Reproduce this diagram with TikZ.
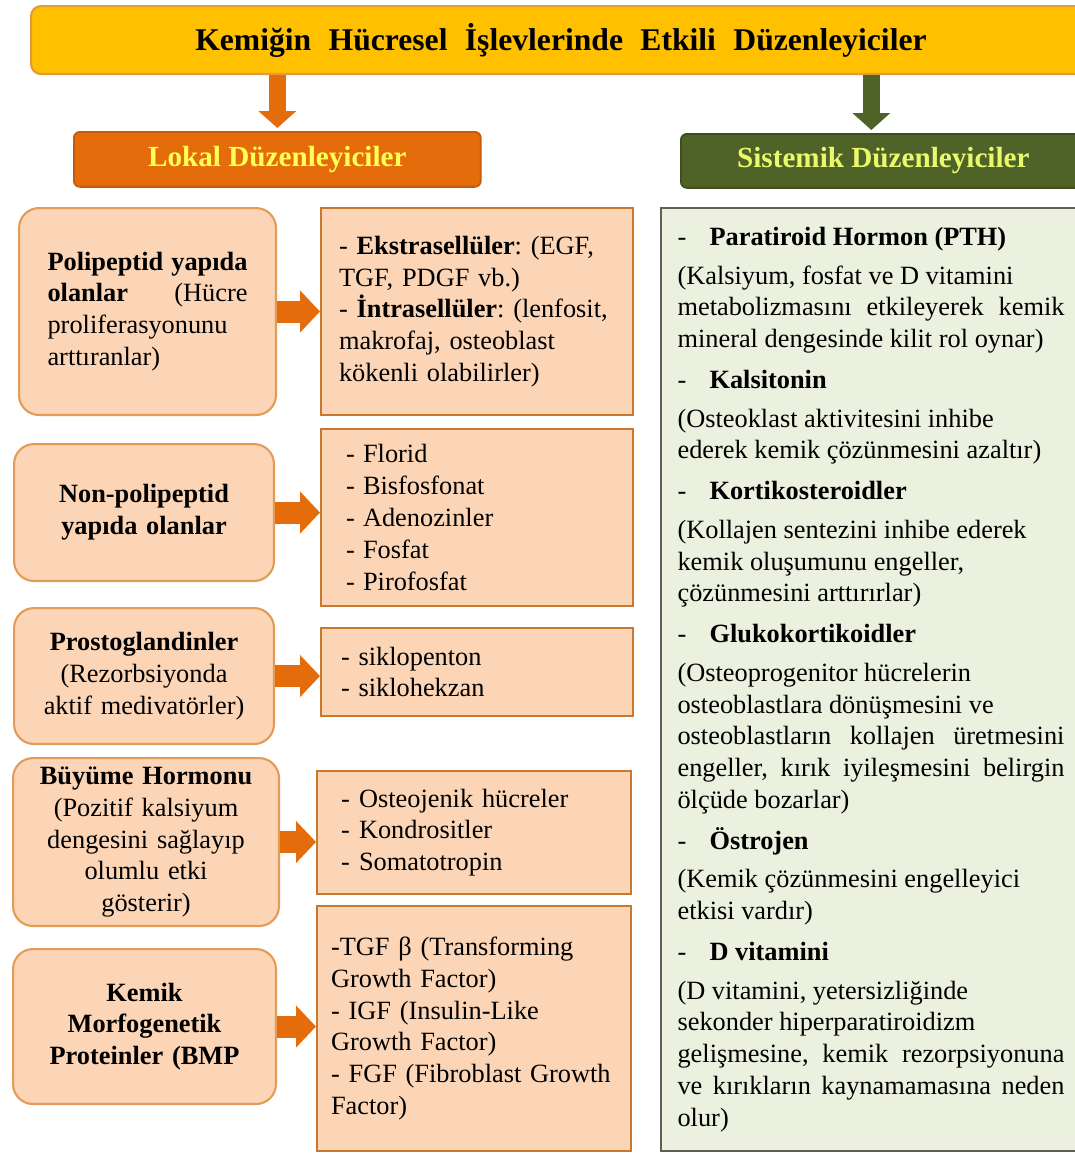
\documentclass[tikz,border=0pt]{standalone}
\usepackage{fontspec}
\setmainfont{Liberation Serif}
\usetikzlibrary{arrows.meta}
\hyphenpenalty=10000
\exhyphenpenalty=10000
\frenchspacing

\definecolor{titlegold}{HTML}{FFC000}
\definecolor{titleline}{HTML}{E49A3C}
\definecolor{arroworange}{HTML}{E46C0A}
\definecolor{lokalfill}{HTML}{E46C0A}
\definecolor{lokalline}{HTML}{C45A0A}
\definecolor{lokaltext}{HTML}{FFFF55}
\definecolor{sisfill}{HTML}{4F6228}
\definecolor{sisline}{HTML}{3E4E1E}
\definecolor{sistext}{HTML}{E9F96B}
\definecolor{peach}{HTML}{FBD5B5}
\definecolor{peachline}{HTML}{E39C58}
\definecolor{itemline}{HTML}{C8782F}
\definecolor{sysfill}{HTML}{EBF1DE}
\definecolor{sysline}{HTML}{5F5F58}

\newcommand{\itemdash}[2][0.34cm]{\makebox[#1][l]{-}#2}
\newcommand{\syshead}[1]{\par\vspace{5pt}\noindent\makebox[0.64cm][l]{-}\textbf{#1}\par\vspace{4pt}\noindent\ignorespaces}
\newcommand{\widespace}{\spaceskip 0.55em\relax}

\tikzset{
  titlebox/.style={
    draw=titleline,
    fill=titlegold,
    line width=1.2pt,
    rounded corners=0.2cm,
    anchor=north west,
    font=\fontsize{18}{21}\selectfont\bfseries\widespace
  },
  headbox/.style={
    rounded corners=0.12cm,
    line width=1pt,
    anchor=north west,
    font=\fontsize{16.6}{20}\selectfont\bfseries
  },
  groupbox/.style={
    draw=peachline,
    fill=peach,
    line width=1.2pt,
    rounded corners=0.4cm,
    anchor=north west,
    align=center,
    text width=4.6cm,
    font=\fontsize{15}{18.1}\selectfont
  },
  itembox/.style={
    draw=itemline,
    fill=peach,
    line width=1.2pt,
    anchor=north west,
    align=left,
    font=\fontsize{15}{18.1}\selectfont
  },
  sysbox/.style={
    draw=sysline,
    fill=sysfill,
    line width=1.2pt,
    anchor=north west,
    align=justify,
    text width=7.74cm,
    minimum width=8.4cm,
    minimum height=18.86cm,
    font=\fontsize{15}{18.1}\selectfont
  },
  downarrow/.style={
    line width=0.34cm,
    -{Triangle[length=0.34cm,width=0.74cm]}
  },
  itemarrow/.style={
    draw=arroworange,
    line width=0.44cm,
    -{Triangle[length=0.4cm,width=0.82cm]}
  }
}

\begin{document}
\begin{tikzpicture}[x=0.02cm,y=-0.02cm]
\useasboundingbox (0,0) rectangle (1075,1153);
\fill[white] (0,0) rectangle (1075,1153);

\node[titlebox,minimum width=21.2cm,minimum height=1.36cm] (title) at (30,5)
  {Kemiğin Hücresel İşlevlerinde Etkili Düzenleyiciler};

\node[headbox,draw=lokalline,fill=lokalfill,text=lokaltext,minimum width=8.14cm,minimum height=1.1cm] (lokal) at (73,131)
  {Lokal Düzenleyiciler};
\node[headbox,draw=sisline,fill=sisfill,text=sistext,minimum width=8.1cm,minimum height=1.08cm] (sistemik) at (680,133)
  {Sistemik Düzenleyiciler};
\coordinate (sisarrow) at ([xshift=-0.24cm]sistemik.north);

\draw[downarrow,draw=arroworange,shorten >=0.06cm] (lokal.north |- title.south) -- (lokal.north);
\draw[downarrow,draw=sisfill,shorten >=0.06cm] (sisarrow |- title.south) -- (sisarrow);

% lokal
\node[groupbox,align=justify,text width=4cm,minimum width=5.14cm,minimum height=4.14cm] (poli) at (18,207)
  {\textbf{Polipeptid yapıda}\linebreak \textbf{olanlar} (Hücre\linebreak proliferasyonunu\\ arttıranlar)};
\node[groupbox,minimum width=5.2cm,minimum height=2.74cm] (non) at (13,443)
  {\textbf{Non-polipeptid}\\ \textbf{yapıda olanlar}};
\node[groupbox,minimum width=5.2cm,minimum height=2.72cm] (prosto) at (13,607)
  {\textbf{Prostoglandinler}\\ (Rezorbsiyonda\\ aktif medivatörler)};
\node[groupbox,minimum width=5.32cm,minimum height=3.36cm] (buyume) at (12,757)
  {\textbf{Büyüme Hormonu}\\ (Pozitif kalsiyum\\ dengesini sağlayıp\\ olumlu etki\\ gösterir)};
\node[groupbox,minimum width=5.26cm,minimum height=3.1cm] (bmp) at (12,948)
  {\textbf{Kemik}\\ \textbf{Morfogenetik}\\ \textbf{Proteinler (BMP}};

\node[itembox,text width=5.52cm,minimum width=6.24cm,minimum height=4.14cm] (poliR) at (320,207)
  {- \textbf{Ekstrasellüler}: (EGF,\\ TGF, PDGF vb.)\\ - \textbf{İntrasellüler}: (lenfosit,\\ makrofaj, osteoblast\\ kökenli olabilirler)};
\node[itembox,text width=5.24cm,minimum width=6.24cm,minimum height=3.54cm] (nonR) at (320,428)
  {\itemdash{Florid}\\ \itemdash{Bisfosfonat}\\ \itemdash{Adenozinler}\\ \itemdash{Fosfat}\\ \itemdash{Pirofosfat}};
\node[itembox,text width=5.44cm,minimum width=6.24cm,minimum height=1.76cm] (prostoR) at (320,627)
  {- siklopenton\\ - siklohekzan};
\node[itembox,text width=5.32cm,minimum width=6.28cm,minimum height=2.46cm] (buyumeR) at (316,770)
  {\itemdash[0.36cm]{Osteojenik hücreler}\\ \itemdash[0.36cm]{Kondrositler}\\ \itemdash[0.36cm]{Somatotropin}};
\node[itembox,text width=5.72cm,minimum width=6.28cm,minimum height=4.9cm] (bmpR) at (316,905)
  {-TGF β (Transforming\\ Growth Factor)\\ - IGF (Insulin-Like\\ Growth Factor)\\ - FGF (Fibroblast Growth\\ Factor)};

\foreach \a/\b in {poli/poliR,non/nonR,prosto/prostoR,buyume/buyumeR,bmp/bmpR}
  \draw[itemarrow] (\a.east) -- (\a.east -| \b.west);

% sistemik
\node[sysbox] (sys) at (660,207) {%
  \noindent\makebox[0.64cm][l]{-}\textbf{Paratiroid Hormon (PTH)}\par\vspace{4pt}\noindent
  (Kalsiyum, fosfat ve D vitamini\\
  metabolizmasını etkileyerek kemik\linebreak
  mineral dengesinde kilit rol oynar)
  \syshead{Kalsitonin}
  (Osteoklast aktivitesini inhibe\\
  ederek kemik çözünmesini azaltır)
  \syshead{Kortikosteroidler}
  (Kollajen sentezini inhibe ederek\\
  kemik oluşumunu engeller,\\
  çözünmesini arttırırlar)
  \syshead{Glukokortikoidler}
  (Osteoprogenitor hücrelerin\\
  osteoblastlara dönüşmesini ve\\
  osteoblastların kollajen üretmesini\linebreak
  engeller, kırık iyileşmesini belirgin\linebreak
  ölçüde bozarlar)
  \syshead{Östrojen}
  (Kemik çözünmesini engelleyici\\
  etkisi vardır)
  \syshead{D vitamini}
  (D vitamini, yetersizliğinde\\
  sekonder hiperparatiroidizm\\
  gelişmesine, kemik rezorpsiyonuna\linebreak
  ve kırıkların kaynamamasına neden\linebreak
  olur)\par\vspace*{-4.5pt}};
\end{tikzpicture}
\end{document}
